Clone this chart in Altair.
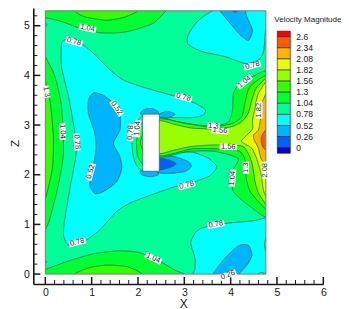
import altair as alt
import pandas as pd

FONT = "Liberation Sans"
INK = "#1a1a1a"
LINE = "#1c5a42"

X_MAJOR = [0, 1, 2, 3, 4, 5, 6]
Z_MAJOR = [0, 1, 2, 3, 4, 5]
X_MINOR = [0.2, 0.4, 0.6, 0.8, 1.2, 1.4, 1.6, 1.8, 2.2, 2.4, 2.6, 2.8, 3.2, 3.4, 3.6, 3.8, 4.2, 4.4, 4.6, 4.8, 5.2, 5.4, 5.6, 5.8]
Z_MINOR = [0.2, 0.4, 0.6, 0.8, 1.2, 1.4, 1.6, 1.8, 2.2, 2.4, 2.6, 2.8, 3.2, 3.4, 3.6, 3.8, 4.2, 4.4, 4.6, 4.8, 5.2]

LEVELS = [2.6, 2.34, 2.08, 1.82, 1.56, 1.3, 1.04, 0.78, 0.52, 0.26, 0]
BAND_LO = [2.6, 2.34, 2.08, 1.82, 1.56, 1.3, 1.04, 0.78, 0.52, 0.26, 0.0, -0.13]
BAND_HI = [2.73, 2.6, 2.34, 2.08, 1.82, 1.56, 1.3, 1.04, 0.78, 0.52, 0.26, 0.0]
BAND_COL = ["#ff0000", "#ff5a00", "#ffb400", "#e6ff00", "#99ff00", "#33ff00",
            "#00ff33", "#00ff99", "#00ffff", "#00b4ff", "#0060ff", "#0000e0"]
C = dict(zip(BAND_LO, BAND_COL))

TOP_104 = [(-0.2, 5.22), (0.3, 5.1), (0.75, 4.95), (1.18, 4.86), (1.6, 4.86), (1.9, 4.91), (2.33, 5.05), (2.6, 5.3), (2.7, 5.5), (1.0, 5.6), (-0.2, 5.5)]
TOP_130 = [(0.64, 5.3), (0.85, 5.18), (1.32, 5.11), (1.7, 5.17), (1.99, 5.3), (1.9, 5.5), (0.8, 5.5)]
BOT_104 = [(-0.2, 0.0), (0.0, 0.09), (0.46, 0.25), (1.04, 0.41), (1.61, 0.47), (2.04, 0.43), (2.48, 0.25), (2.8, 0.08), (3.1, -0.1), (1.5, -0.3)]
BOT_130 = [(0.64, 0.0), (0.96, 0.13), (1.32, 0.18), (1.76, 0.15), (2.08, 0.0), (1.9, -0.2), (0.8, -0.2)]
LEFT_104 = [(-0.15, 4.6), (0.0, 4.38), (0.21, 3.97), (0.35, 3.37), (0.39, 2.43), (0.28, 1.79), (0.1, 1.12), (0.0, 0.9), (-0.2, 0.7), (-0.25, 2.6)]
LEFT_130 = [(-0.1, 4.1), (0.0, 3.9), (0.1, 3.5), (0.17, 2.83), (0.17, 2.4), (0.14, 2.06), (0.0, 1.52), (-0.15, 1.3), (-0.2, 2.7)]
NOTCH_TOP = [(-0.1, 5.12), (0.03, 5.02), (-0.1, 4.88)]
NOTCH_BOT = [(-0.1, 0.32), (0.03, 0.24), (-0.1, 0.14)]

CYAN_MAIN = [(0.35, 4.64), (0.46, 4.72), (0.82, 4.61), (1.11, 4.38), (1.4, 4.11), (1.68, 3.91), (2.12, 3.76), (2.8, 3.58), (3.23, 3.44), (3.45, 3.31), (3.41, 3.2), (3.16, 3.15), (2.8, 3.15), (2.46, 3.13), (2.3, 2.75), (2.46, 2.33), (2.6, 2.4), (2.9, 2.45), (3.2, 2.45), (3.52, 2.33), (3.7, 2.16), (3.55, 1.98), (3.23, 1.86), (3.05, 1.79), (2.8, 1.76), (1.9, 1.46), (1.54, 1.26), (1.18, 0.89), (0.82, 0.65), (0.5, 0.58), (0.39, 0.79), (0.42, 1.12), (0.53, 1.72), (0.66, 2.4), (0.64, 2.83), (0.5, 3.57), (0.35, 4.17)]
CYAN_TOPR = [(3.61, 5.3), (3.31, 5.11), (3.1, 4.85), (3.07, 4.64), (3.38, 4.48), (3.88, 4.38), (4.32, 4.24), (4.6, 4.31), (4.71, 4.48), (4.75, 4.85), (4.85, 5.35), (4.2, 5.5)]
CYAN_BOTR = [(4.9, 1.13), (4.46, 1.07), (3.7, 1.0), (3.3, 0.89), (3.14, 0.64), (3.23, 0.32), (3.23, 0.11), (3.2, -0.1), (4.0, -0.2), (4.55, -0.1), (4.62, 0.03), (4.9, 0.03), (4.73, 0.6)]
SKY_LEFT = [(0.93, 3.5), (1.04, 3.65), (1.25, 3.6), (1.47, 3.44), (1.61, 3.2), (1.61, 2.9), (1.47, 2.63), (1.61, 2.36), (1.65, 2.13), (1.54, 1.86), (1.25, 1.66), (1.07, 1.62), (0.96, 1.79), (1.04, 2.19), (1.09, 2.5), (1.07, 2.83), (0.93, 3.23)]
SKY_TOPR = [(3.74, 5.36), (3.99, 5.05), (4.17, 4.85), (4.38, 4.7), (4.47, 4.91), (4.35, 5.18), (4.28, 5.36), (4.0, 5.5)]
BLUE_TOPR = [(4.0, 5.33), (4.1, 5.27), (4.18, 5.33), (4.1, 5.42)]
SKY_BOTR = [(3.63, 0.0), (3.88, 0.32), (4.17, 0.57), (4.38, 0.58), (4.46, 0.38), (4.35, 0.18), (4.17, 0.0), (3.9, -0.15)]
SPRING_BLOCK = [(2.2, 3.16), (2.0, 3.1), (1.9, 2.9), (1.87, 2.65), (1.9, 2.35), (2.0, 2.15), (2.2, 2.08)]
GREEN_BLOCK = [(2.2, 3.08), (2.03, 2.97), (1.97, 2.65), (2.0, 2.35), (2.2, 2.18)]
LIME_BLOCK = [(2.2, 2.95), (2.05, 2.65), (2.2, 2.35)]
SKY_BLOCK_A = [(2.05, 3.24), (2.15, 3.32), (2.3, 3.33), (2.44, 3.27), (2.4, 3.15), (2.15, 3.15)]
SKY_BLOCK_B = [(2.42, 3.2), (2.62, 3.28), (2.8, 3.22), (2.66, 3.15), (2.44, 3.12)]
SKY_BLOCK_C = [(2.05, 2.07), (2.08, 2.0), (2.25, 1.96), (2.44, 2.0), (2.4, 2.12), (2.15, 2.12)]
SKY_WAKE = [(2.4, 2.38), (2.8, 2.36), (3.09, 2.26), (3.15, 2.16), (3.02, 2.07), (2.73, 2.03), (2.4, 2.06)]
BLUE_WAKE = [(2.4, 2.33), (2.66, 2.3), (2.82, 2.23), (2.73, 2.16), (2.4, 2.09)]

WAKE_104 = [(2.46, 3.14), (2.8, 3.08), (3.23, 3.01), (3.66, 2.98), (3.95, 3.06), (4.04, 3.3), (4.06, 3.64), (4.2, 3.84), (4.46, 3.97), (4.9, 4.08), (4.95, 3.0), (4.9, 1.18), (4.38, 1.39), (4.06, 1.66), (4.03, 1.9), (4.05, 2.1), (4.16, 2.33), (3.66, 2.47), (3.09, 2.47), (2.48, 2.36), (2.3, 2.7)]
WAKE_130 = [(2.46, 3.12), (3.02, 3.03), (3.56, 2.96), (4.03, 3.03), (4.24, 3.17), (4.31, 3.44), (4.38, 3.71), (4.53, 3.87), (4.9, 4.0), (4.95, 3.0), (4.9, 1.3), (4.45, 1.62), (4.34, 1.9), (4.33, 2.1), (4.3, 2.33), (4.17, 2.48), (3.66, 2.52), (3.16, 2.52), (2.48, 2.38), (2.3, 2.7)]
WAKE_156 = [(2.46, 3.08), (2.8, 3.01), (3.16, 2.94), (3.66, 2.92), (4.03, 2.97), (4.24, 3.07), (4.38, 3.24), (4.47, 3.54), (4.57, 3.77), (4.9, 3.98), (4.95, 3.0), (4.9, 1.36), (4.62, 1.6), (4.53, 1.85), (4.47, 2.2), (4.38, 2.43), (4.24, 2.58), (3.66, 2.6), (3.16, 2.57), (2.8, 2.5), (2.46, 2.43), (2.35, 2.7)]
YEL_182 = [(4.9, 3.95), (4.6, 3.64), (4.52, 3.3), (4.47, 3.1), (4.47, 2.92), (4.28, 2.73), (4.24, 2.66), (4.46, 2.53), (4.57, 2.3), (4.66, 2.0), (4.72, 1.65), (4.9, 1.45), (5.0, 2.7)]
AMB_208 = [(4.9, 3.8), (4.67, 3.44), (4.64, 3.1), (4.6, 2.9), (4.49, 2.8), (4.51, 2.7), (4.6, 2.53), (4.67, 2.3), (4.9, 2.1), (5.0, 3.0)]
ORA_234 = [(4.9, 3.05), (4.68, 2.8), (4.66, 2.68), (4.7, 2.55), (4.9, 2.4), (5.0, 2.7)]

POLYS = [
    (TOP_104, 1.04), (TOP_130, 1.3), (BOT_104, 1.04), (BOT_130, 1.3),
    (LEFT_104, 1.04), (LEFT_130, 1.3), (NOTCH_TOP, 0.52), (NOTCH_BOT, 0.52),
    (CYAN_MAIN, 0.52), (CYAN_TOPR, 0.52), (CYAN_BOTR, 0.52),
    (SKY_LEFT, 0.26), (SKY_TOPR, 0.26), (BLUE_TOPR, 0.0), (SKY_BOTR, 0.26),
    (SPRING_BLOCK, 0.78), (GREEN_BLOCK, 1.04), (LIME_BLOCK, 1.3),
    (SKY_BLOCK_A, 0.26), (SKY_BLOCK_B, 0.26), (SKY_BLOCK_C, 0.26),
    (SKY_WAKE, 0.26), (BLUE_WAKE, 0.0),
    (WAKE_104, 1.04), (WAKE_130, 1.3), (WAKE_156, 1.56),
    (YEL_182, 1.82), (AMB_208, 2.08), (ORA_234, 2.34),
]

LABEL_TEXT = ["1.04", "0.78", "1.3", "1.04", "0.78", "0.52", "0.78", "1.04", "0.52", "0.78", "1.04",
              "0.78", "1.04", "0.78", "1.82", "1.3", "1.56", "1.56", "1.04", "1.3", "2.08", "0.78", "0.26", "0.78"]
LABEL_X = [0.91, 0.62, 0.02, 0.37, 0.68, 1.54, 1.84, 1.99, 0.98, 0.69, 2.33,
           4.47, 4.3, 2.98, 4.62, 3.63, 3.77, 3.95, 4.04, 4.33, 4.74, 3.68, 3.94, 3.05]
LABEL_Z = [4.95, 4.68, 3.67, 2.87, 2.66, 3.34, 2.85, 2.93, 2.06, 0.64, 0.32,
           4.2, 3.87, 3.56, 3.3, 2.98, 2.89, 2.56, 1.93, 2.14, 2.09, 1.0, -0.02, 1.79]
LABEL_ANGLE = [12, 15, 80, 88, 85, 55, -85, -85, -75, -15, 25,
               -15, -40, 15, -90, 6, 5, 3, -85, -90, -90, -10, -20, -15]

FRAME_X = [0, 4.76]
FRAME_Z = [0, 5.3]
BLOCK_X = [2.1, 2.46]
BLOCK_Z = [2.07, 3.22]
X_DOMAIN = [-0.26, 6]
Z_DOMAIN = [-0.2, 5.357]

W, H = 290, 276
xs = alt.Scale(domain=X_DOMAIN, nice=False, zero=False)
zs = alt.Scale(domain=Z_DOMAIN, nice=False, zero=False)
xaxis = alt.Axis(values=X_MAJOR, format="d", tickSize=0, grid=False, domainWidth=1.6, domainColor=INK,
                 labelFont=FONT, labelFontSize=10.5, labelColor=INK, labelPadding=3, labelFlush=False,
                 labelOverlap=False, title="X", titleFont=FONT, titleFontSize=12, titleFontWeight="normal",
                 titleColor=INK, titleX=150, titleY=14, zindex=1)
zaxis = alt.Axis(values=Z_MAJOR, format="d", tickSize=0, grid=False, domainWidth=1.6, domainColor=INK,
                 labelFont=FONT, labelFontSize=10.5, labelColor=INK, labelPadding=4, labelFlush=False,
                 labelOverlap=False, title="Z", titleFont=FONT, titleFontSize=11.5, titleFontWeight="normal",
                 titleColor=INK, titleX=-13, titleY=135, titleAngle=-90, zindex=1)
EX = alt.X("x:Q", scale=xs, axis=xaxis)
EZ = alt.Y("z:Q", scale=zs, axis=zaxis)
EX2 = alt.X2("x2:Q")
EZ2 = alt.Y2("z2:Q")


def rect_df(x0, x1, z0, z1):
    return pd.DataFrame({"x": [x0], "x2": [x1], "z": [z0], "z2": [z1]})


layers = [
    alt.Chart(rect_df(FRAME_X[0], FRAME_X[1], FRAME_Z[0], FRAME_Z[1]))
    .mark_rect(color=C[0.78]).encode(x=EX, x2=EX2, y=EZ, y2=EZ2)
]
for pts, lo in POLYS:
    df = pd.DataFrame({"x": [p[0] for p in pts], "z": [p[1] for p in pts], "i": range(len(pts))})
    layers.append(
        alt.Chart(df).mark_line(interpolate="cardinal-closed", tension=0.35, fill=C[lo], stroke=LINE,
                                strokeWidth=0.7, clip=True)
        .encode(x=EX, y=EZ, order=alt.Order("i:Q"))
    )
# everything outside the data frame stays white
for x0, x1, z0, z1 in [(X_DOMAIN[0], FRAME_X[0], Z_DOMAIN[0], Z_DOMAIN[1]),
                       (FRAME_X[1], X_DOMAIN[1], Z_DOMAIN[0], Z_DOMAIN[1]),
                       (X_DOMAIN[0], X_DOMAIN[1], Z_DOMAIN[0], FRAME_Z[0]),
                       (X_DOMAIN[0], X_DOMAIN[1], FRAME_Z[1], Z_DOMAIN[1])]:
    layers.append(alt.Chart(rect_df(x0, x1, z0, z1)).mark_rect(color="white")
                  .encode(x=EX, x2=EX2, y=EZ, y2=EZ2))
layers.append(alt.Chart(rect_df(FRAME_X[0], FRAME_X[1], FRAME_Z[0], FRAME_Z[1]))
              .mark_rect(fillOpacity=0, stroke="#7a7a7a", strokeWidth=1, fill="white")
              .encode(x=EX, x2=EX2, y=EZ, y2=EZ2))
layers.append(alt.Chart(rect_df(BLOCK_X[0], BLOCK_X[1], BLOCK_Z[0], BLOCK_Z[1]))
              .mark_rect(fill="white", stroke="#555555", strokeWidth=0.7)
              .encode(x=EX, x2=EX2, y=EZ, y2=EZ2))

# tick marks point inward
for vals, length, width in [(X_MAJOR, 7, 1.5), (X_MINOR, 4, 1)]:
    layers.append(alt.Chart(pd.DataFrame({"x": vals})).mark_rule(color=INK, strokeWidth=width)
                  .encode(x=EX, y=alt.value(H), y2=alt.value(H - length)))
for vals, length, width in [(Z_MAJOR, 7, 1.5), (Z_MINOR, 4, 1)]:
    layers.append(alt.Chart(pd.DataFrame({"z": vals})).mark_rule(color=INK, strokeWidth=width)
                  .encode(y=EZ, x=alt.value(0), x2=alt.value(length)))

# contour labels
ldf = pd.DataFrame({"x": LABEL_X, "z": LABEL_Z, "t": LABEL_TEXT, "a": LABEL_ANGLE,
                    "n": [len(t) for t in LABEL_TEXT]})
layers.append(alt.Chart(ldf[ldf.n == 4]).mark_point(shape="M-1 -0.36H1V0.36H-1Z", filled=True, color="white", opacity=1, size=300)
              .encode(x=EX, y=EZ, angle=alt.Angle("a:Q", scale=None)))
layers.append(alt.Chart(ldf[ldf.n == 3]).mark_point(shape="M-1 -0.52H1V0.52H-1Z", filled=True, color="white", opacity=1, size=150)
              .encode(x=EX, y=EZ, angle=alt.Angle("a:Q", scale=None)))
layers.append(alt.Chart(ldf).mark_text(font=FONT, fontSize=7.5, color=INK, baseline="middle", align="center")
              .encode(x=EX, y=EZ, text="t:N", angle=alt.Angle("a:Q", scale=None)))
main = alt.layer(*layers)

# colour bar on its own velocity scale
vs = alt.Scale(domain=[0, 2.6], range=[139.7, 28.7], nice=False, zero=False)
EV = alt.Y("lo:Q", scale=vs, axis=None)
bdf = pd.DataFrame({"lo": BAND_LO, "hi": BAND_HI, "c": BAND_COL})
bar = alt.Chart(bdf).mark_rect(stroke=INK, strokeWidth=0.6).encode(
    x=alt.value(244), x2=alt.value(257), y=EV, y2=alt.Y2("hi:Q"),
    fill=alt.Fill("c:N", scale=None))
tdf = pd.DataFrame({"lo": LEVELS, "t": [str(v) for v in LEVELS]})
txt = alt.Chart(tdf).mark_text(font=FONT, fontSize=8.6, color=INK, align="left", baseline="middle").encode(
    x=alt.value(263), y=EV, text="t:N")
ttl = alt.Chart(pd.DataFrame({"t": ["Velocity Magnitude"]})).mark_text(
    font=FONT, fontSize=8, color=INK, align="left", baseline="middle").encode(
    x=alt.value(241), y=alt.value(12), text="t:N")
legend = alt.layer(bar, txt, ttl)

chart = (
    alt.layer(main, legend)
    .resolve_scale(y="independent")
    .properties(width=W, height=H, padding={"left": 25.3, "top": 0, "right": 17.7, "bottom": 25},
                autosize=alt.AutoSizeParams(type="none"), background="white")
    .configure_view(stroke=None)
)
chart.save("out.html", embed_options={"renderer": "svg", "actions": False})
